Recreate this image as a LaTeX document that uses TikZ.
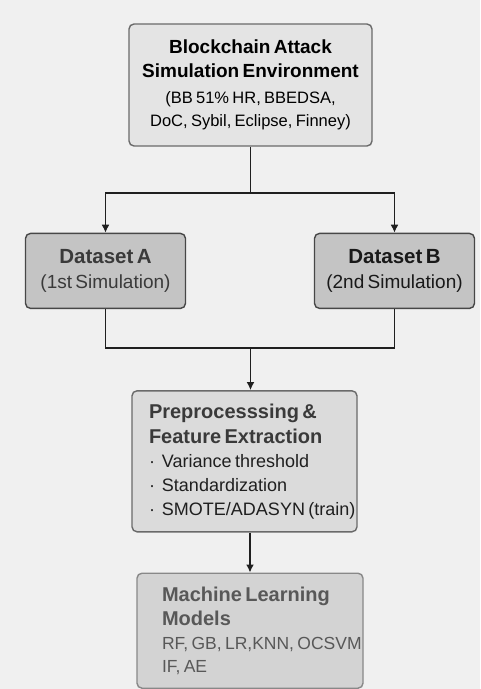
\documentclass[tikz,border=0pt]{standalone}
\usepackage{fontspec}
\setmainfont[WordSpace=1.5]{Liberation Sans}
\usetikzlibrary{arrows.meta,positioning}
\definecolor{bggray}{HTML}{F0F0F0}
\definecolor{envfill}{HTML}{E4E4E4}
\definecolor{datafill}{HTML}{C4C4C4}
\definecolor{prepfill}{HTML}{DBDBDB}
\definecolor{mlfill}{HTML}{D3D3D3}
\definecolor{boxline}{HTML}{6A6A6A}
\definecolor{mltext}{HTML}{585858}
\definecolor{darktext}{HTML}{3A3A3A}
\tikzset{
block/.style={
  rectangle,
  draw=boxline,
  line width=1.4pt,
  rounded corners=5pt,
  inner ysep=0pt},
envblock/.style={
  block,
  fill=envfill,
  text width=243pt,
  inner xsep=0pt,
  align=center,
  minimum height=122pt},
datablock/.style={
  block,
  draw=black!72,
  fill=datafill,
  text width=160pt,
  inner xsep=0pt,
  align=center,
  minimum height=75pt},
prepblock/.style={
  block,
  fill=prepfill,
  text width=191pt,
  inner xsep=17pt,
  align=left,
  minimum height=141pt},
mlblock/.style={
  block,
  draw=boxline!80,
  fill=mlfill,
  text width=176pt,
  inner xsep=25pt,
  align=left,
  text=mltext,
  minimum height=115pt},
line/.style={draw=black!88, line width=1.6pt, -{Latex[length=8pt,width=8pt]}},
edge/.style={draw=black!88, line width=1.6pt}
}
\newcommand{\titlefont}{\fontsize{19}{24}\selectfont\bfseries}
\newcommand{\subfont}{\fontsize{16.5}{23}\selectfont}
\newcommand{\bul}{·\hspace{7pt}}

\begin{document}
\begin{tikzpicture}[x=1pt,y=1pt]
    \fill[bggray] (0,0) rectangle (480,-689);
    \useasboundingbox (0,0) rectangle (480,-689);
    \node [envblock] (env) at (250.5,-85) {%
      {\titlefont Blockchain Attack\\ Simulation Environment\par}\vspace{3pt}
      {\subfont (BB 51\% HR, BBEDSA,\\ DoC, Sybil, Eclipse, Finney)\par}};
    \node [datablock, below=86pt of env.south, xshift=-145pt] (dsA) {%
      {\fontsize{19}{25}\selectfont\color{darktext}{\fontsize{20.5}{25}\selectfont\bfseries Dataset A}\\ (1st Simulation)\par}};
    \node [datablock, below=86pt of env.south, xshift=144pt] (dsB) {%
      {\fontsize{19}{25}\selectfont\color{black!90}{\fontsize{20.5}{25}\selectfont\bfseries Dataset B}\\ (2nd Simulation)\par}};
    \coordinate [below=46pt of env.south] (split);
    \path (env.south |- dsA.south) coordinate (mid);
    \coordinate [below=39pt of mid] (join);
    \node [prepblock, below=42pt of join, xshift=-6pt] (prep) {%
      {\fontsize{20}{25}\selectfont\bfseries\color{darktext} Preprocesssing \&\\ Feature Extraction\par}
      {\fontsize{18}{24}\selectfont\color{black!88} \bul Variance threshold\\ \bul Standardization\\ \mbox{\bul SMOTE/ADASYN (train)}\par}};
    \node [mlblock, below=40pt of prep.south, xshift=5.5pt] (ml) {%
      {\fontsize{20}{24.5}\selectfont\bfseries Machine Learning\\ Models\par}
      {\fontsize{17.5}{23.5}\selectfont \mbox{RF, GB, LR,KNN, OCSVM}\\ IF, AE\par}};
    % top split
    \path [edge] (env.south) -- (split);
    \path [line] (split) -| (dsA.north);
    \path [line] (split) -| (dsB.north);
    % merge
    \path [edge] (dsA.south) |- (join);
    \path [edge] (dsB.south) |- (join);
    \path [line] (join) -- (join |- prep.north);
    \path [line] (prep.south -| ml.north) -- (ml.north);
\end{tikzpicture}
\end{document}
